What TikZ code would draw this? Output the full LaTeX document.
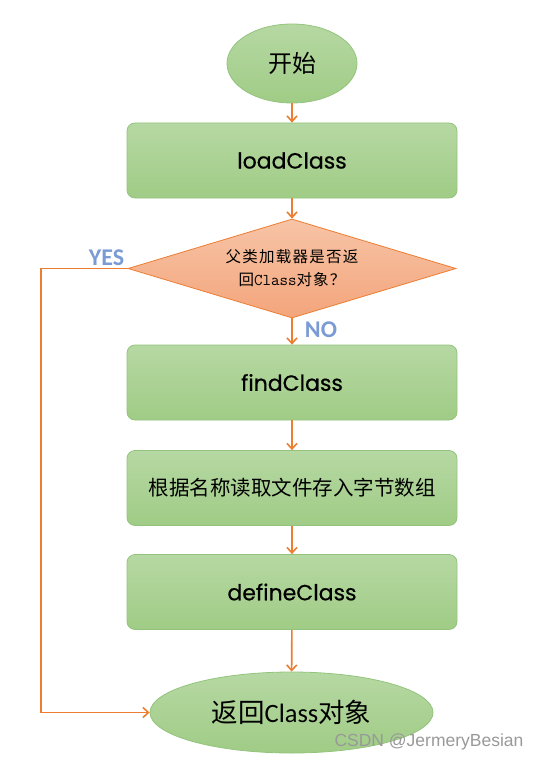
\documentclass[tikz,border=0pt]{standalone}
\usepackage{fontspec}
\setmainfont{Liberation Sans}
\newfontfamily\cjk{Noto Sans CJK SC}
\newfontfamily\cjkspaced[LetterSpace=8]{Noto Sans CJK SC}
\newfontfamily\comic[FakeBold=0.6]{Poppins}
\newfontfamily\calib{Carlito}
\usetikzlibrary{shapes.geometric,arrows.meta}
\definecolor{gtop}{HTML}{B6D8A3}
\definecolor{gbot}{HTML}{A0CC86}
\definecolor{gline}{HTML}{93C47D}
\definecolor{otop}{HTML}{F7C4A6}
\definecolor{obot}{HTML}{F3A57C}
\definecolor{oline}{HTML}{ED7D31}
\definecolor{yesno}{HTML}{7B9BD5}
\tikzset{
  greenfill/.style={draw=gline, line width=0.8pt, top color=gtop, bottom color=gbot},
  terminal/.style={greenfill, ellipse, inner sep=0pt},
  procbox/.style={greenfill, rectangle, rounded corners=8pt, minimum width=330pt, minimum height=75pt, inner sep=0pt},
  decision/.style={diamond, aspect=3.3, draw=oline, line width=0.8pt, top color=otop, bottom color=obot, inner sep=0pt, minimum width=328pt, minimum height=99pt},
  flow/.style={draw=oline, line width=1.6pt, -{Straight Barb[length=5.5pt,width=10pt,line width=1.6pt]}},
  yesnolabel/.style={text=yesno, font=\calib\bfseries\fontsize{24}{24}\selectfont, inner sep=0pt},
}
\begin{document}
\begin{tikzpicture}[x=1pt,y=-1pt]
\useasboundingbox (0,0) rectangle (540,762);
\node[terminal, minimum width=130pt, minimum height=79pt, font=\cjk\fontsize{24}{24}\selectfont] (start) at (292,63.5) {开始};
\node[procbox, font=\comic\fontsize{22}{22}\selectfont] (load) at (292,160.5) {loadClass};
\node[decision, align=center, font=\fontsize{15.5}{23}\selectfont] (dec) at (292,268.5) {{\cjkspaced 父类加载器是否返}\\{\cjkspaced 回}{\ttfamily\fontsize{16.5}{23}\selectfont Class}{\cjkspaced 对象？}};
\node[procbox, font=\comic\fontsize{22}{22}\selectfont] (find) at (292,382.5) {findClass};
\node[procbox, font=\cjk\fontsize{20.5}{20.5}\selectfont] (read) at (292,488) {根据名称读取文件存入字节数组};
\node[procbox, font=\comic\fontsize{22}{22}\selectfont] (define) at (292,592) {defineClass};
\node[terminal, minimum width=283pt, minimum height=81pt, font=\fontsize{26.5}{26.5}\selectfont] (end) at (291.5,712.5) {{\cjk 返回}{\calib Class}{\cjk 对象}};
\coordinate (corner1) at (41,268.5);
\coordinate (corner2) at (41,712.5);
\draw[flow] (start) -- (load);
\draw[flow] (load) -- (dec);
\draw[flow] (dec) -- (find);
\draw[flow] (find) -- (read);
\draw[flow] (read) -- (define);
\draw[flow] (define) -- (end);
\draw[flow] (dec.west) -- (corner1) -- (corner2) -- (end.west);
\node[yesnolabel] (yes) at (106.5,258) {YES};
\node[yesnolabel] (no) at (321,330) {NO};
\node[text=black!40, font=\fontsize{17.5}{17.5}\selectfont, inner sep=0pt] (wm) at (429,742) {CSDN @JermeryBesian};
\end{tikzpicture}
\end{document}
